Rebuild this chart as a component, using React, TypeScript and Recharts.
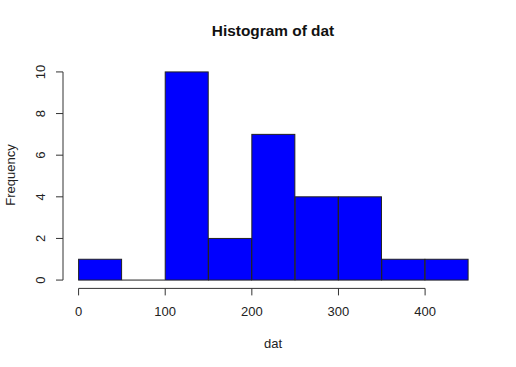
import { BarChart, Bar, XAxis, YAxis, ReferenceLine } from 'recharts';

// histogram bins (width 50) and counts
const binStarts = [0, 50, 100, 150, 200, 250, 300, 350, 400];
const binWidth = 50;
const counts = [1, 0, 10, 2, 7, 4, 4, 1, 1];
const xTicks = [0, 100, 200, 300, 400];
const yTicks = [0, 2, 4, 6, 8, 10];

const data = binStarts.map((s, i) => ({ bin: s + binWidth / 2, count: counts[i] }));

// R-style 4% extension of the plot region
const xMin = 0;
const xMax = 450;
const xExt = (xMax - xMin) * 0.04;
const yExt = 10 * 0.04;

const W = 516;
const H = 367;
const margin = { top: 63.6, right: 32, bottom: 38.6, left: 0 };
const yAxisW = 63;
const plotW = W - margin.left - margin.right - yAxisW;
const barPad = (plotW * xExt) / (xMax - xMin + 2 * xExt);

const font = '"Liberation Sans", Arial, sans-serif';
const ink = '#333';

const XTick = (props: any) => {
  const { x, y, payload } = props;
  return (
    <g>
      <line x1={x} y1={y} x2={x} y2={y + 7} stroke={ink} strokeWidth={1} />
      <text x={x} y={y + 28} textAnchor="middle" fontSize={13} fill="#222" fontFamily={font}>
        {payload.value}
      </text>
    </g>
  );
};

const YTick = (props: any) => {
  const { x, y, payload } = props;
  return (
    <g>
      <line x1={x} y1={y} x2={x - 7} y2={y} stroke={ink} strokeWidth={1} />
      <text
        x={x - 18.4}
        y={y}
        textAnchor="middle"
        fontSize={13}
        fill="#222"
        fontFamily={font}
        transform={`rotate(-90 ${x - 18.4} ${y})`}
      >
        {payload.value}
      </text>
    </g>
  );
};

const HistBar = (props: any) => {
  const { x, y, width, height } = props;
  if (!height) {
    return <line x1={x} y1={y} x2={x + width} y2={y} stroke="#222" strokeWidth={1} />;
  }
  return <rect x={x} y={y} width={width} height={height} fill="#0000ff" stroke="#222" strokeWidth={1} />;
};

export default function App() {
  return (
    <div style={{ position: 'relative', width: W, height: H, background: '#fff' }}>
      <style>{'body { margin: 0; }'}</style>
      <BarChart width={W} height={H} data={data} margin={margin} barCategoryGap={0} barGap={0}>
        <XAxis xAxisId="bins" dataKey="bin" hide height={0} padding={{ left: barPad, right: barPad }} />
        <XAxis
          xAxisId="num"
          dataKey="bin"
          type="number"
          domain={[xMin - xExt, xMax + xExt]}
          ticks={xTicks}
          interval={0}
          allowDataOverflow
          axisLine={false}
          tickLine={false}
          tickSize={0}
          tickMargin={0}
          height={40}
          tick={<XTick />}
        />
        <YAxis
          type="number"
          domain={[-yExt, 10 + yExt]}
          ticks={yTicks}
          interval={0}
          allowDataOverflow
          width={yAxisW}
          axisLine={false}
          tickLine={false}
          tickSize={0}
          tickMargin={0}
          tick={<YTick />}
        />
        <Bar xAxisId="bins" dataKey="count" shape={<HistBar />} isAnimationActive={false} />
        <ReferenceLine
          xAxisId="num"
          segment={[{ x: xTicks[0], y: -yExt }, { x: xTicks[xTicks.length - 1], y: -yExt }]}
          stroke={ink}
          strokeWidth={1}
          ifOverflow="visible"
        />
        <ReferenceLine
          xAxisId="num"
          segment={[{ x: xMin - xExt, y: yTicks[0] }, { x: xMin - xExt, y: yTicks[yTicks.length - 1] }]}
          stroke={ink}
          strokeWidth={1}
          ifOverflow="visible"
        />
      </BarChart>
      <svg
        width={W}
        height={H}
        style={{ position: 'absolute', left: 0, top: 0, pointerEvents: 'none' }}
        fontFamily={font}
      >
        <text x={273} y={36} textAnchor="middle" fontSize={15.4} fontWeight="bold" fill="#111">
          Histogram of dat
        </text>
        <text x={273} y={348} textAnchor="middle" fontSize={13} fill="#222">
          dat
        </text>
        <text x={14.5} y={175} textAnchor="middle" fontSize={13} fill="#222" transform="rotate(-90 14.5 175)">
          Frequency
        </text>
      </svg>
    </div>
  );
}
